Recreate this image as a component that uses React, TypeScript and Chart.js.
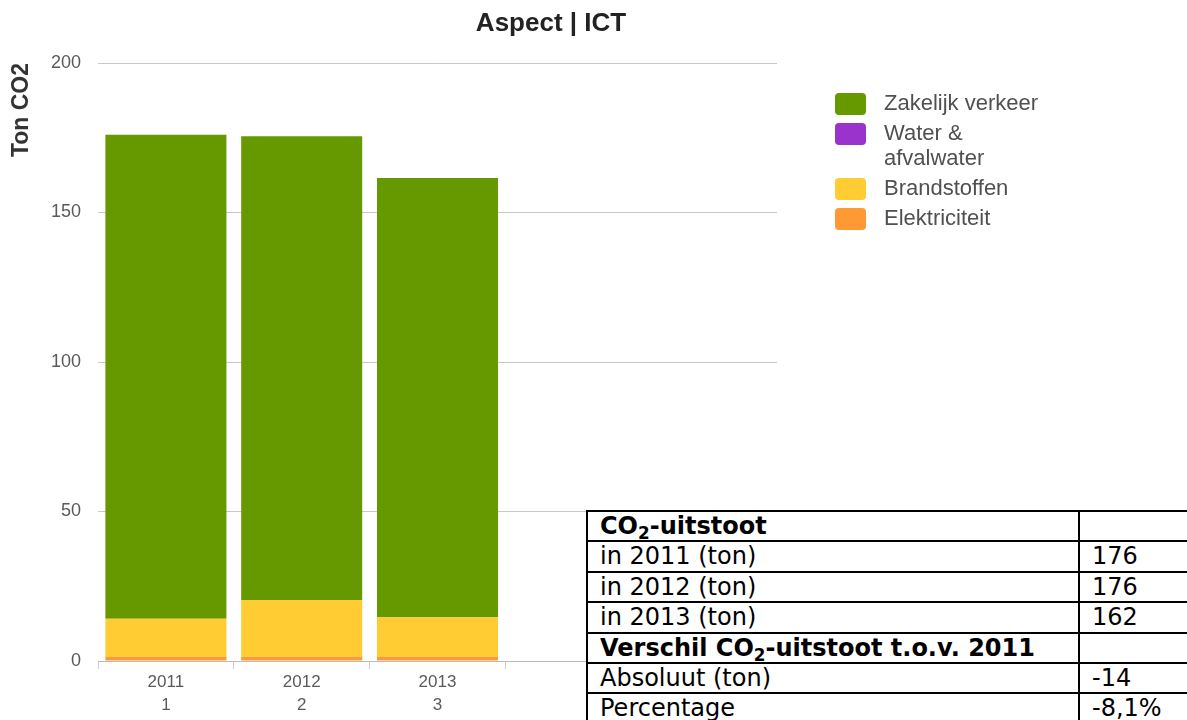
import React, { useEffect, useRef } from "react";
import { Chart, registerables } from "chart.js";

Chart.register(...registerables);

// ---- data ----
const years = ["2011", "2012", "2013", "", ""];
const yearIndex = ["1", "2", "3", "", ""];
const seriesNames = ["Elektriciteit", "Brandstoffen", "Water & afvalwater", "Zakelijk verkeer"];
const seriesColors = ["#FF9933", "#FFCC33", "#9933CC", "#669900"];
const elektriciteit = [1.4, 1.4, 1.4, null, null];
const brandstoffen = [12.7, 19.0, 13.2, null, null];
const waterAfvalwater = [0, 0, 0, null, null];
const zakelijkVerkeer = [161.9, 155.1, 146.9, null, null];
const yTickValues = [0, 50, 100, 150, 200];

const tableYears = ["2011", "2012", "2013"];
const tableTotals = ["176", "176", "162"];
const diffAbsolute = "-14";
const diffPercentage = "-8,1%";

const FONT = "'Liberation Sans', Arial, Helvetica, sans-serif";

function wrapText(ctx: CanvasRenderingContext2D, text: string, maxW: number): string[] {
  const words = text.split(" ");
  const lines: string[] = [];
  let cur = "";
  for (const w of words) {
    const t = cur ? cur + " " + w : w;
    if (cur && ctx.measureText(t).width > maxW) {
      lines.push(cur);
      cur = w;
    } else {
      cur = t;
    }
  }
  if (cur) lines.push(cur);
  return lines;
}

const sideLegend = {
  id: "sideLegend",
  afterDraw(chart: any) {
    const ctx: CanvasRenderingContext2D = chart.ctx;
    const boxX = 827;
    const textX = 876;
    const lineH = 25;
    const gap = 5;
    let y = 85;
    ctx.save();
    ctx.font = `22px ${FONT}`;
    ctx.textBaseline = "middle";
    ctx.textAlign = "left";
    const items = chart.data.datasets
      .map((d: any) => ({ label: d.label as string, color: d.backgroundColor as string }))
      .reverse();
    for (const it of items) {
      const lines = wrapText(ctx, it.label, 165);
      ctx.fillStyle = it.color;
      ctx.beginPath();
      if ((ctx as any).roundRect) (ctx as any).roundRect(boxX, y, 31, 22, 4);
      else ctx.rect(boxX, y, 31, 22);
      ctx.fill();
      ctx.fillStyle = "#505050";
      lines.forEach((ln, j) => ctx.fillText(ln, textX, y + 11 + j * lineH));
      y += lines.length * lineH + gap;
    }
    ctx.restore();
  },
};

export default function App() {
  const canvasRef = useRef<HTMLCanvasElement | null>(null);

  useEffect(() => {
    if (!canvasRef.current) return;
    const labels = years.map((y, i) => (y ? [y, yearIndex[i]] : ""));
    const seriesData = [elektriciteit, brandstoffen, waterAfvalwater, zakelijkVerkeer];
    const chart = new Chart(canvasRef.current, {
      type: "bar",
      data: {
        labels,
        datasets: seriesNames.map((name, i) => ({
          label: name,
          data: seriesData[i],
          backgroundColor: seriesColors[i],
          borderWidth: 0,
          barPercentage: 0.891,
          categoryPercentage: 1,
        })),
      },
      options: {
        responsive: false,
        animation: false,
        devicePixelRatio: 1,
        layout: { padding: 0 },
        plugins: {
          legend: { display: false },
          tooltip: { enabled: false },
          title: {
            display: true,
            text: "Aspect | ICT",
            color: "#222",
            font: { family: FONT, size: 26, weight: "bold", lineHeight: 1.2 },
            padding: { top: 0, bottom: 23.8 },
          },
        },
        scales: {
          x: {
            stacked: true,
            grid: {
              display: true,
              drawOnChartArea: false,
              drawTicks: true,
              tickLength: 8,
              color: "#ccc",
            },
            border: { display: true, color: "#bbb", width: 1 },
            ticks: {
              padding: 2,
              color: "#5a5a5a",
              autoSkip: false,
              maxRotation: 0,
              font: { family: FONT, size: 17, lineHeight: 1.35 },
            },
            afterFit: (s: any) => {
              s.height = 59;
            },
          },
          y: {
            stacked: true,
            min: 0,
            max: 200,
            afterBuildTicks: (s: any) => {
              s.ticks = yTickValues.map((v) => ({ value: v }));
            },
            grid: { color: "#c8c8c8", drawTicks: false, lineWidth: 1 },
            border: { display: false },
            ticks: {
              padding: 17,
              color: "#5a5a5a",
              font: { family: FONT, size: 18 },
            },
            title: {
              display: true,
              text: "Ton CO2",
              align: "end",
              color: "#333",
              font: { family: FONT, size: 23, weight: "bold", lineHeight: 1.2 },
              padding: 0,
            },
            afterFit: (s: any) => {
              s.width = 90;
            },
          },
          spacer: {
            type: "linear",
            position: "right",
            display: true,
            grid: { display: false, drawTicks: false },
            border: { display: false },
            ticks: { display: false },
            afterFit: (s: any) => {
              s.width = 317;
            },
          },
        },
      } as any,
      plugins: [sideLegend],
    });
    return () => chart.destroy();
  }, []);

  const cell: React.CSSProperties = {
    borderRight: "2px solid #000",
    borderBottom: "2px solid #000",
    padding: "0 0 0 12px",
    lineHeight: "28.4px",
    whiteSpace: "nowrap",
    overflow: "hidden",
    textAlign: "left",
  };
  const bold: React.CSSProperties = { ...cell, fontWeight: "bold" };
  const sub = (
    <sub style={{ fontSize: "0.7em", lineHeight: 0, verticalAlign: "-0.3em" }}>2</sub>
  );

  return (
    <div
      style={{
        position: "fixed",
        left: 0,
        top: 0,
        width: 1187,
        height: 720,
        overflow: "hidden",
        background: "#fff",
      }}
    >
      <canvas
        ref={canvasRef}
        width={1086}
        height={712}
        style={{ position: "absolute", left: 8, top: 8, display: "block" }}
      />
      <table
        style={{
          position: "absolute",
          left: 586,
          top: 510,
          borderCollapse: "separate",
          borderSpacing: 0,
          borderLeft: "2px solid #000",
          borderTop: "2px solid #000",
          fontFamily: "'DejaVu Sans', Verdana, sans-serif",
          fontSize: 24,
          color: "#000",
          background: "#fff",
          tableLayout: "fixed",
          width: 644,
        }}
      >
        <colgroup>
          <col style={{ width: 492 }} />
          <col style={{ width: 150 }} />
        </colgroup>
        <tbody>
          <tr>
            <td style={bold}>CO{sub}-uitstoot</td>
            <td style={cell}></td>
          </tr>
          {tableYears.map((y, i) => (
            <tr key={y}>
              <td style={cell}>in {y} (ton)</td>
              <td style={cell}>{tableTotals[i]}</td>
            </tr>
          ))}
          <tr>
            <td style={bold}>Verschil CO{sub}-uitstoot t.o.v. {tableYears[0]}</td>
            <td style={cell}></td>
          </tr>
          <tr>
            <td style={cell}>Absoluut (ton)</td>
            <td style={cell}>{diffAbsolute}</td>
          </tr>
          <tr>
            <td style={cell}>Percentage</td>
            <td style={cell}>{diffPercentage}</td>
          </tr>
        </tbody>
      </table>
    </div>
  );
}
